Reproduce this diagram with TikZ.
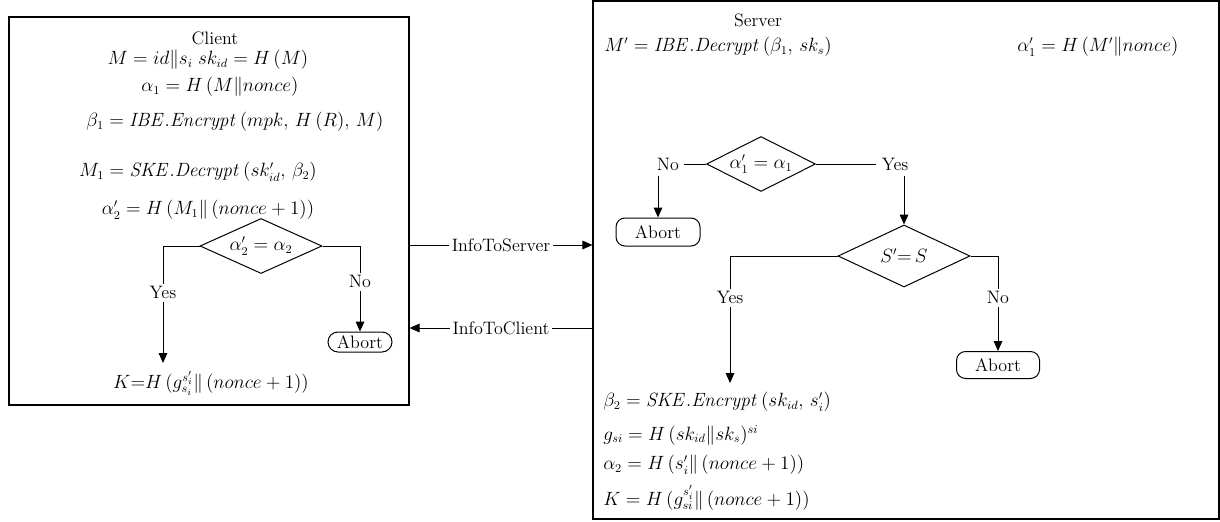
\documentclass[tikz,border=0pt]{standalone}
\usetikzlibrary{shapes.geometric,arrows.meta,calc}
\newcommand{\px}[1]{#1*0.75pt}
\begin{document}
\begin{tikzpicture}[x=0.75pt,y=-0.75pt,
  every node/.style={font=\fontsize{13.5}{16}\selectfont},
  boxstyle/.style={draw,line width=0.9pt,inner sep=0pt},
  ln/.style={line width=0.75pt},
  arr/.style={ln,-{Triangle[length=7.5pt,width=6.5pt]}},
  dia/.style={diamond,draw,line width=0.75pt,inner sep=0pt,aspect=2.2},
  abortbox/.style={draw,line width=0.75pt,rounded corners=\px{9},inner sep=0pt},
  lbl/.style={fill=white,inner sep=\px{3}},
  txt/.style={inner sep=0pt}]
\useasboundingbox (0,0) rectangle (1220,521);
% boxes
\node[boxstyle,minimum width=\px{400},minimum height=\px{388}] (cbox) at (209,211) {};
\node[boxstyle,minimum width=\px{626},minimum height=\px{518}] (sbox) at (906,260) {};
% client texts
\node[txt] (ctitle) at (215,38) {Client};
\node[txt] (c1) at (208,60) {$M = id\|s_i\; sk_{id} = H\,(M)$};
\node[txt] (c2) at (220,87) {$\alpha_1 = H\,(M\|nonce)$};
\node[txt] (c3) at (235,122) {$\beta_1 = \mathit{IBE.Encrypt}\,(mpk,\, H\,(R),\, M)$};
\node[txt] (c4) at (198,172) {$M_1 = \mathit{SKE.Decrypt}\,(sk'_{id},\, \beta_2)$};
\node[txt] (c5) at (208,210) {$\alpha'_2 = H\,(M_1\|\,(nonce+1))$};
\node[dia,minimum width=\px{122},minimum height=\px{55}] (cd) at (261,246) {$\alpha'_2 = \alpha_2$};
\node[abortbox,minimum width=\px{64},minimum height=\px{20},rounded corners=\px{10}] (cab) at (360,342) {Abort};
\node[txt] (ck) at (211,383) {$K{=}H\,(g^{s'_i}_{s_i}\|\,(nonce+1))$};
\coordinate (cky) at (163,363);
\draw[arr] (cd.west) -| node[lbl,pos=0.70] {Yes} (cky);
\draw[arr] (cd.east) -| node[lbl,pos=0.71] {No} (cab.north);
% messages
\coordinate (m1) at (0,245);
\coordinate (m2) at (0,328);
\draw[arr] (cbox.east |- m1) -- node[lbl] {InfoToServer} (sbox.west |- m1);
\draw[arr] (sbox.west |- m2) -- node[lbl] {InfoToClient} (cbox.east |- m2);
% server texts
\node[txt] (stitle) at (758,20) {Server};
\node[txt,anchor=west] (s1) at (604,47) {$M' = \mathit{IBE.Decrypt}\,(\beta_1,\, sk_s)$};
\node[txt,anchor=west] (s2) at (1017,47) {$\alpha'_1 = H\,(M'\|nonce)$};
\node[dia,minimum width=\px{109},minimum height=\px{55}] (sd1) at (761,164) {$\alpha'_1 = \alpha_1$};
\node[inner sep=\px{5}] (no1) at (668,164) {No};
\node[inner sep=\px{5}] (yes1) at (895,164) {Yes};
\node[abortbox,minimum width=\px{84},minimum height=\px{28}] (sab1) at (658,232) {Abort};
\node[dia,minimum width=\px{132},minimum height=\px{62}] (sd2) at (904,256) {$S'{=}\,S$};
\node[abortbox,minimum width=\px{83},minimum height=\px{27}] (sab2) at (998,365) {Abort};
\draw[ln] (no1.east) -- (sd1.west);
\draw[ln] (sd1.east) -- (yes1.west);
\draw[arr] (no1.south -| sab1.north) -- (sab1.north);
\draw[arr] (yes1.south -| sd2.north) -- (sd2.north);
\coordinate (sky) at (730,383);
\draw[arr] (sd2.west) -| node[lbl,pos=0.665] {Yes} (sky);
\draw[arr] (sd2.east) -| node[lbl,pos=0.72] {No} (sab2.north);
\node[txt,anchor=west] (s3) at (603,402) {$\beta_2 = \mathit{SKE.Encrypt}\,(sk_{id},\, s'_i)$};
\node[txt,anchor=west] (s4) at (603,435) {$g_{si} = H\,(sk_{id}\|sk_s)^{si}$};
\node[txt,anchor=west] (s5) at (603,465) {$\alpha_2 = H\,(s'_i\|\,(nonce+1))$};
\node[txt,anchor=west] (s6) at (603,498) {$K = H\,(g^{s'_i}_{si}\|\,(nonce+1))$};
\end{tikzpicture}
\end{document}
